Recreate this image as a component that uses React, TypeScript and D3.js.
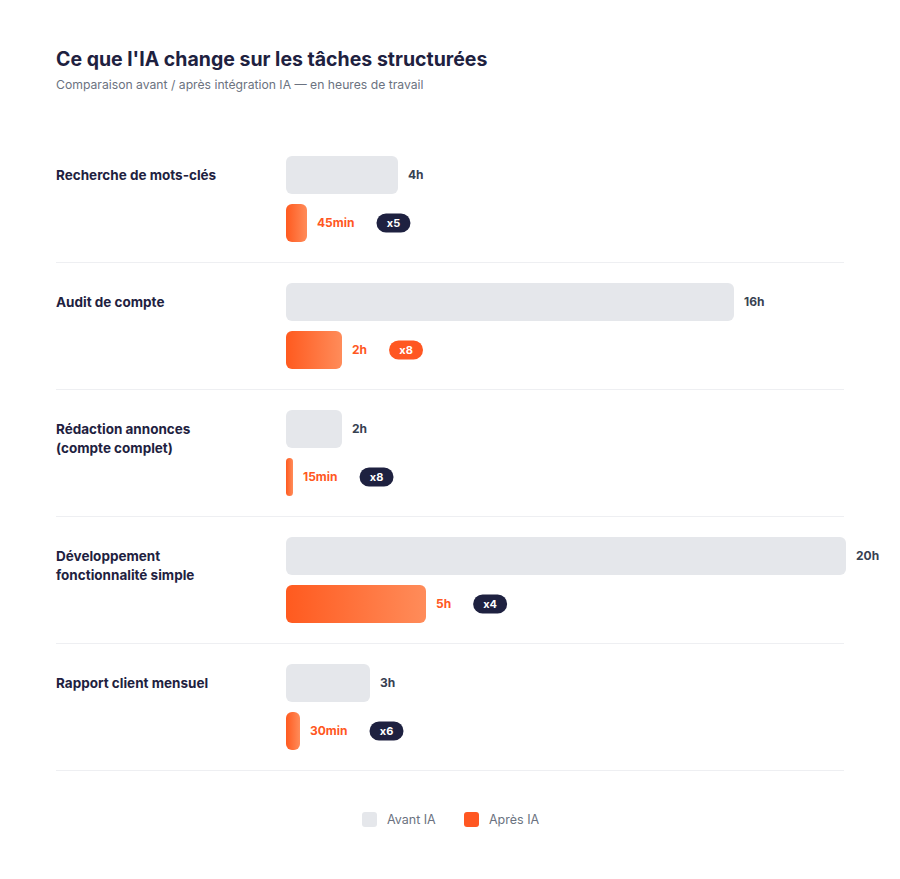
import React, { useEffect, useRef } from "react";
import * as d3 from "d3";

const tasks = [
  ["Recherche de mots-clés"],
  ["Audit de compte"],
  ["Rédaction annonces", "(compte complet)"],
  ["Développement", "fonctionnalité simple"],
  ["Rapport client mensuel"],
];
const beforeHours = [4, 16, 2, 20, 3];
const afterHours = [0.75, 2, 0.25, 5, 0.5];
const legendLabels = ["Avant IA", "Après IA"];

const W = 900;
const H = 879;
const FONT = "Inter, 'Noto Sans', sans-serif";
const DARK = "#1e2140";
const ORANGE = "#ff5722";
const GRAY_BAR = "#e5e7eb";

const fmt = (h: number) => (h < 1 ? `${Math.round(h * 60)}min` : `${h}h`);

export default function App() {
  const ref = useRef<SVGSVGElement>(null);

  useEffect(() => {
    const svg = d3.select(ref.current!);
    svg.selectAll("*").remove();

    const defs = svg.append("defs");
    const grad = defs
      .append("linearGradient")
      .attr("id", "orangeGrad")
      .attr("x1", "0%")
      .attr("x2", "100%")
      .attr("y1", "0%")
      .attr("y2", "0%");
    grad.append("stop").attr("offset", "0%").attr("stop-color", "#ff5a1f");
    grad.append("stop").attr("offset", "100%").attr("stop-color", "#ff8c5a");

    svg
      .append("text")
      .attr("x", 56)
      .attr("y", 66)
      .attr("font-family", FONT)
      .attr("font-size", 19.5)
      .attr("font-weight", 700)
      .attr("fill", DARK)
      .text("Ce que l'IA change sur les tâches structurées");

    svg
      .append("text")
      .attr("x", 56)
      .attr("y", 88.5)
      .attr("font-family", FONT)
      .attr("font-size", 12.2)
      .attr("fill", "#6b7280")
      .text("Comparaison avant / après intégration IA — en heures de travail");

    const x = d3.scaleLinear().domain([0, 20]).range([286, 846]);
    const rowTop = d3
      .scaleBand<number>()
      .domain(d3.range(tasks.length))
      .range([135, 135 + 127 * tasks.length])
      .paddingInner(0)
      .paddingOuter(0);

    const ratios = beforeHours.map((b, i) => b / afterHours[i]);
    const hiIdx = d3.maxIndex(ratios);

    const barH = 38;

    tasks.forEach((lines, i) => {
      const top = rowTop(i)!;
      const g = svg.append("g");
      const yB = top + 21;
      const yA = yB + barH + 10;

      const lbl = g
        .append("text")
        .attr("font-family", FONT)
        .attr("font-size", 13.5)
        .attr("font-weight", 700)
        .attr("fill", DARK);
      lines.forEach((l, k) => {
        lbl
          .append("tspan")
          .attr("x", 56)
          .attr("y", yB + barH / 2 + 4.5 + k * 19)
          .text(l);
      });

      g.append("rect")
        .attr("x", x(0))
        .attr("y", yB)
        .attr("width", x(beforeHours[i]) - x(0))
        .attr("height", barH)
        .attr("rx", 6)
        .attr("fill", GRAY_BAR);
      g.append("text")
        .attr("x", x(beforeHours[i]) + 10)
        .attr("y", yB + barH / 2 + 4)
        .attr("font-family", FONT)
        .attr("font-size", 12)
        .attr("font-weight", 700)
        .attr("fill", "#374151")
        .text(fmt(beforeHours[i]));

      g.append("rect")
        .attr("x", x(0))
        .attr("y", yA)
        .attr("width", x(afterHours[i]) - x(0))
        .attr("height", barH)
        .attr("rx", Math.min(6, (x(afterHours[i]) - x(0)) / 2))
        .attr("fill", "url(#orangeGrad)");
      const vt = g
        .append("text")
        .attr("x", x(afterHours[i]) + 10)
        .attr("y", yA + barH / 2 + 4)
        .attr("font-family", FONT)
        .attr("font-size", 12)
        .attr("font-weight", 700)
        .attr("fill", ORANGE)
        .text(fmt(afterHours[i]));
      const tw = (vt.node() as SVGTextElement).getComputedTextLength();
      const bx = x(afterHours[i]) + 10 + tw + 22;
      const bw = 34;
      const bh = 19;
      g.append("rect")
        .attr("x", bx)
        .attr("y", yA + barH / 2 - bh / 2)
        .attr("width", bw)
        .attr("height", bh)
        .attr("rx", bh / 2)
        .attr("fill", i === hiIdx ? ORANGE : DARK);
      g.append("text")
        .attr("x", bx + bw / 2)
        .attr("y", yA + barH / 2 + 4)
        .attr("text-anchor", "middle")
        .attr("font-family", FONT)
        .attr("font-size", 11)
        .attr("font-weight", 700)
        .attr("fill", "#ffffff")
        .text(`x${Math.round(ratios[i])}`);

      g.append("line")
        .attr("x1", 56)
        .attr("x2", 844)
        .attr("y1", top + 127 + 0.5)
        .attr("y2", top + 127 + 0.5)
        .attr("stroke", "#eeeff2")
        .attr("stroke-width", 1);
    });

    const legendX = [362, 464];
    const legendFill = [GRAY_BAR, ORANGE];
    legendLabels.forEach((l, i) => {
      svg
        .append("rect")
        .attr("x", legendX[i])
        .attr("y", 812)
        .attr("width", 15)
        .attr("height", 15)
        .attr("rx", 3)
        .attr("fill", legendFill[i]);
      svg
        .append("text")
        .attr("x", legendX[i] + 25)
        .attr("y", 824)
        .attr("font-family", FONT)
        .attr("font-size", 12.5)
        .attr("fill", "#6b7280")
        .text(l);
    });
  }, []);

  return (
    <svg
      ref={ref}
      width={W}
      height={H}
      style={{ position: "absolute", top: 0, left: 0, display: "block", background: "#fff" }}
    />
  );
}
